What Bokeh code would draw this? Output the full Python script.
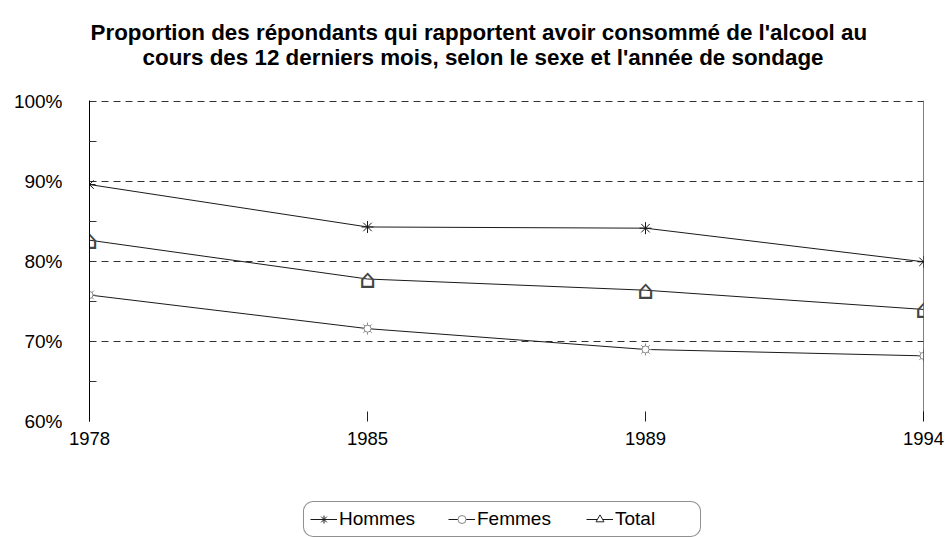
from bokeh.plotting import figure
from bokeh.layouts import column
from bokeh.models import Range1d, FixedTicker, Span, Legend, LegendItem, ColumnDataSource, Title
from bokeh.core.properties import value
from bokeh.embed import file_html
from bokeh.resources import INLINE

years = ["1978", "1985", "1989", "1994"]
hommes = [89.6, 84.3, 84.15, 79.95]
femmes = [75.8, 71.6, 69.0, 68.2]
total = [82.65, 77.8, 76.4, 74.0]
y_ticks = [60, 70, 80, 90, 100]
y_minor = [65, 75, 85, 95]
y_labels = ["60%", "70%", "80%", "90%", "100%"]
series_names = ["Hommes", "Femmes", "Total"]
title_lines = [
    "Proportion des répondants qui rapportent avoir consommé de l'alcool au",
    "cours des 12 derniers mois, selon le sexe et l'année de sondage",
]

FONT = "Liberation Sans"
xs = list(range(len(years)))
LC = "#1a1a1a"
FEM = "#8a8a8a"

src = ColumnDataSource(dict(x=xs, hommes=hommes, femmes=femmes, total=total,
                            house=["\u2302"] * len(xs)))

p = figure(width=945, height=492, output_backend="svg", toolbar_location=None,
           x_range=Range1d(0, len(years) - 1), y_range=Range1d(60, 100.1),
           min_border_left=89, min_border_right=22, min_border_top=100,
           min_border_bottom=71)
p.outline_line_color = None
p.background_fill_color = "white"
p.border_fill_color = "white"

t1 = Title(text=title_lines[0], align="left", offset=1, text_font=FONT,
           text_font_size="22.4px", text_font_style="bold", text_color="black",
           standoff=0)
try:
    t1.standoff = -4
except Exception:
    t1.standoff = 0
t2 = Title(text=title_lines[1], align="left", offset=53, text_font=FONT,
           text_font_size="22.4px", text_font_style="bold", text_color="black",
           standoff=0)
spacer = Title(text=" ", text_font=FONT, text_font_size="1px", standoff=28)
p.title = t1
p.add_layout(spacer, "above")
p.add_layout(t2, "above")

# x axis
p.xaxis.ticker = FixedTicker(ticks=xs)
p.xaxis.major_label_overrides = {i: y for i, y in enumerate(years)}
p.xaxis.axis_line_color = None
p.xaxis.major_tick_in = 10
p.xaxis.major_tick_out = 0
p.xaxis.major_tick_line_color = "#222"
p.xaxis.minor_tick_line_color = None
p.xaxis.major_label_standoff = 10
p.xaxis.major_label_text_font = FONT
p.xaxis.major_label_text_font_size = "18.5px"
p.xaxis.major_label_text_color = "black"

# y axis
p.yaxis.ticker = FixedTicker(ticks=y_ticks, minor_ticks=y_minor)
p.yaxis.major_label_overrides = {t: l for t, l in zip(y_ticks, y_labels)}
p.yaxis.axis_line_color = "black"
p.yaxis.major_tick_in = 0
p.yaxis.major_tick_out = 0
p.yaxis.minor_tick_in = 7
p.yaxis.minor_tick_out = 0
p.yaxis.minor_tick_line_color = "#333"
p.yaxis.major_label_standoff = 27
p.yaxis.major_label_text_font = FONT
p.yaxis.major_label_text_font_size = "19px"
p.yaxis.major_label_text_color = "black"

p.xgrid.visible = False
p.ygrid.grid_line_color = "#333"
p.ygrid.grid_line_dash = "7 5"
p.ygrid.grid_line_width = 1

p.add_layout(Span(location=len(years) - 1, dimension="height",
                  line_color="black", line_width=1))

p.line("x", "hommes", source=src, line_color=LC, line_width=1)
p.line("x", "femmes", source=src, line_color=LC, line_width=1)
p.line("x", "total", source=src, line_color=LC, line_width=1)
p.scatter("x", "hommes", source=src, marker="asterisk", size=12,
          line_color=LC, line_width=1)
p.scatter("x", "femmes", source=src, marker="asterisk", size=12,
          line_color=FEM, line_width=1)
p.scatter("x", "femmes", source=src, marker="circle", size=7,
          fill_color="white", line_color=FEM, line_width=1)
p.text("x", "total", text="house", source=src, text_align="center",
       text_baseline="middle", text_font=value("DejaVu Sans"),
       text_font_size="26px", text_color="#444444")

# ---- legend in its own strip below the chart ----
lg = figure(width=945, height=45, output_backend="svg", toolbar_location=None,
            x_range=Range1d(0, 1), y_range=Range1d(0, 1),
            x_axis_type=None, y_axis_type=None,
            min_border_left=0, min_border_right=0, min_border_top=0,
            min_border_bottom=0)
lg.outline_line_color = None
lg.xgrid.visible = False
lg.ygrid.grid_line_color = None
lg.background_fill_color = "white"
lg.border_fill_color = "white"

off = [-5, -4]
lh = lg.line(off, off, line_color=LC, line_width=1)
sh = lg.scatter(off, off, marker="asterisk", size=10, line_color=LC)
lf = lg.line(off, off, line_color=LC, line_width=1)
sf2 = lg.scatter(off, off, marker="asterisk", size=10, line_color=FEM)
sf1 = lg.scatter(off, off, marker="circle", size=6, fill_color="white",
                 line_color=FEM)
lt = lg.line(off, off, line_color=LC, line_width=1)
st = lg.scatter(off, off, marker="triangle", size=10, fill_color="white",
                line_color="#222")

legend = Legend(items=[
    LegendItem(label=series_names[0], renderers=[lh, sh]),
    LegendItem(label=series_names[1], renderers=[lf, sf2, sf1]),
    LegendItem(label=series_names[2], renderers=[lt, st]),
], orientation="horizontal", location=(214, 0), glyph_width=27,
    glyph_height=20, label_standoff=2, spacing=30, padding=6,
    label_width=79, label_text_font=FONT, label_text_font_size="19px",
    label_text_color="black", border_line_color="#222", border_line_width=1,
    background_fill_color="white", background_fill_alpha=1, margin=0)
if "border_radius" in Legend.properties():
    legend.border_radius = 10
lg.add_layout(legend, "center")

layout = column(p, lg, spacing=0)
open("out.html", "w").write(file_html(layout, INLINE))
